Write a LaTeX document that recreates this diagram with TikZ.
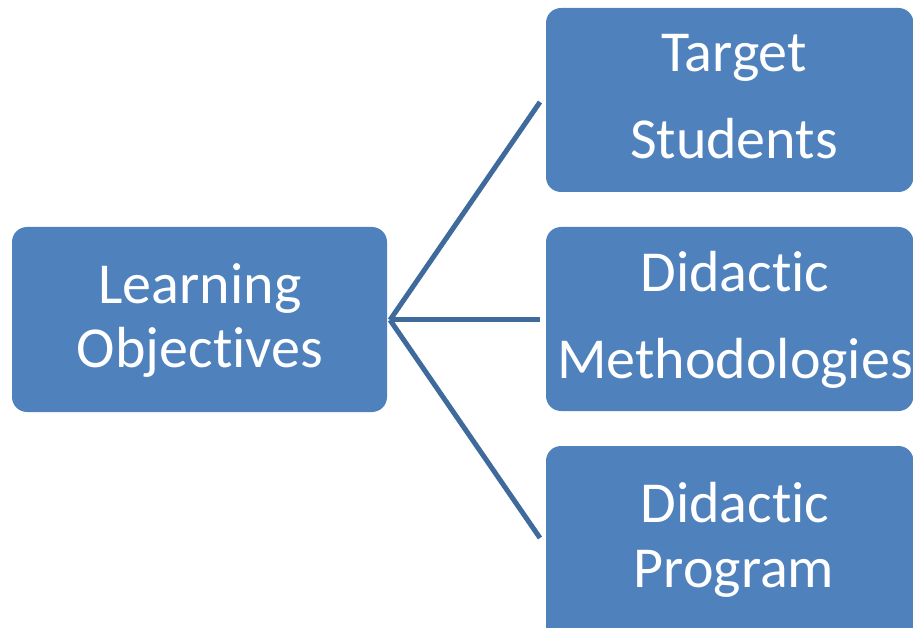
\documentclass[tikz,border=0pt]{standalone}
\usepackage{fontspec}
\setmainfont{Carlito}[Ligatures={NoCommon,NoContextual}]
\definecolor{boxblue}{HTML}{4F81BD}
\definecolor{linkblue}{HTML}{3F6A9C}
\begin{document}
\begin{tikzpicture}[x=1pt,y=-1pt,
  itembox/.style={fill=boxblue, rounded corners=15pt, inner sep=0pt},
  itemtext/.style={text=white, inner sep=0pt, anchor=base, font=\fontsize{58}{70}\selectfont},
  link/.style={draw=linkblue, line width=5pt, line cap=butt}]
\useasboundingbox (0,0) rectangle (913,628);
\clip (0,0) rectangle (913,628);

% boxes
\path[itembox] (12,227) rectangle (387,412) node[pos=0.5] (lo) {};
\path[itembox] (546,8) rectangle (913.5,192) node[pos=0.5] (ts) {};
\path[itembox] (546,227) rectangle (913.5,411) node[pos=0.5] (dm) {};
\path[itembox] (546,446) rectangle (913.5,650) node[pos=0.5] (dp) {};

% fan-out connectors
\coordinate (hub) at (390,320);
\coordinate (ts-end) at (540,102);
\coordinate (dm-end) at (540,320);
\coordinate (dp-end) at (540,538);
\draw[link] (hub) -- (ts-end);
\draw[link] (hub) -- (dm-end);
\draw[link] (hub) -- (dp-end);

% labels
\node[itemtext] (lo1) at (200,304) {Learning};
\node[itemtext] (lo2) at (200,367) {Objectives};
\node[itemtext] (ts1) at (734,72) {Target};
\node[itemtext] (ts2) at (734,159) {Students};
\node[itemtext] (dm1) at (735,292) {Didactic};
\node[itemtext] (dm2) at (735,378) {Methodologies};
\node[itemtext] (dp1) at (735,522) {Didactic};
\node[itemtext] (dp2) at (734,587) {Program};
\end{tikzpicture}
\end{document}
